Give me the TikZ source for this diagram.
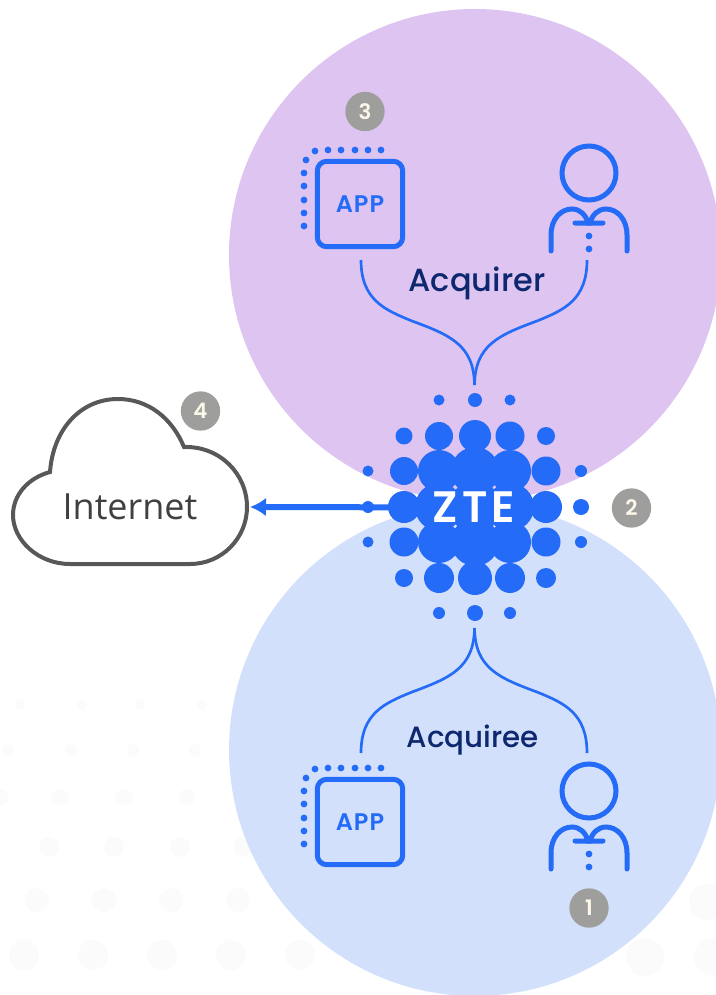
\documentclass[tikz,border=0pt]{standalone}
\usepackage{fontspec}
\setmainfont{Poppins}
\newfontfamily\medfont{Poppins}[UprightFont=* Medium, BoldFont=* SemiBold]
\newfontfamily\inetfont{Open Sans}
\usetikzlibrary{arrows.meta}
\definecolor{ztblue}{RGB}{36,107,247}
\definecolor{acqrbg}{RGB}{222,197,241}
\definecolor{acqebg}{RGB}{211,224,251}
\definecolor{acqtext}{RGB}{13,40,110}
\definecolor{badgegrey}{RGB}{158,158,156}
\definecolor{badgetext}{RGB}{252,247,232}
\definecolor{cloudgrey}{RGB}{88,88,88}
\definecolor{faintdot}{RGB}{251,251,251}
\tikzstyle{badge} = [shape=circle, fill=badgegrey, text=badgetext, minimum size=29.5pt, inner sep=0pt, font=\fontsize{16}{16}\medfont\bfseries]
\tikzstyle{appbox} = [draw=ztblue, line width=3.75pt, rounded corners=7pt, minimum size=64pt, inner sep=0pt, text=ztblue, font=\fontsize{18}{18}\medfont\bfseries]
\tikzstyle{person} = [ztblue, line width=3.75pt, line cap=round]
\tikzstyle{branch} = [ztblue, line width=2pt]
\tikzstyle{acqlabel} = [text=acqtext, font=\fontsize{24}{24}\medfont]

\begin{document}
\begin{tikzpicture}[x=.75pt, y=-.75pt]
    \useasboundingbox (0,0) rectangle (715,995);
    % faint dots in the background
    \foreach \y/\r/\xs in {955/15/{24,93,162,231,300}, 957/19/{645,713}, 902/18/{707}, 900/12/{37,104,171,238}, 847/10/{49,114,180,243}, 797/8/{0,60,124,187}, 750/6/{8,71,133,195}, 705/5/{20,82,140,202}}
        \foreach \x in \xs
            \fill[faintdot] (\x,\y) circle (\r);
    \fill[acqrbg] (475,255) circle (246);
    \fill[acqebg] (475,750) circle (246);

    % hub
    \foreach \x/\y/\r in {439/400/5.5, 475/400/7, 510/400/5.5,
        404/436/8.5, 439/436/14, 475/436/16, 510/436/14.5, 546/436/9,
        368/471/5.5, 404/471/14, 439/471/21, 475/471/24, 510/471/21, 546/471/14.5, 581/471/6,
        368/507/6, 404/507/16, 439/507/24, 475/507/26, 510/507/24, 546/507/16, 581/507/8,
        368/542/5.5, 404/542/14.5, 439/542/21, 475/542/24, 510/542/21, 546/542/14.5, 581/542/6,
        404/578/9, 439/578/15, 475/578/17, 510/578/15, 546/578/10,
        439/613/6, 475/613/8, 510/613/6}
        \fill[ztblue] (\x,\y) circle (\r);
    \draw (474,507.5) node[text=white, font=\fontsize{33}{33}\medfont\bfseries] (zte) {Z\kern3pt T\kern3pt E};

    % cloud
    \draw[cloudgrey, line width=3pt, fill=white] (50,472) .. controls (53,430) and (80,399) .. (118,399)
        .. controls (148,399) and (172,418) .. (184,447) .. controls (220,446) and (247,474) .. (247,507)
        .. controls (247,538) and (222,564) .. (190,564) -- (70,564) .. controls (38,564) and (13,540) .. (13,515)
        .. controls (13,495) and (28,478) .. (50,472) -- cycle;
    \draw (130,507) node[text=black!75, font=\fontsize{27}{27}\inetfont] (internet) {Internet};
    \coordinate (cloudport) at (250,507);
    \draw[ztblue, line width=4.5pt, -{Latex[length=12pt,width=14pt]}] (zte) -- (cloudport);

    % apps and people, upper one first
    \foreach \d/\n in {0/a, 618/b} {
        \draw (360,204+\d) node[appbox] (app\n) {A\kern.8pt P\kern.8pt P};
        \foreach \x/\y in {328/150, 341/150, 355/150, 368/150, 381/150, 315/151, 306/160, 304/173, 304/186, 304/200, 304/213, 304/226}
            \fill[ztblue] (\x,\y+\d) circle (3.4);
        \draw[person] (589,173+\d) circle (27);
        \draw[person] (551,251+\d) -- (551,235+\d) .. controls (551,219+\d) and (561,209+\d) .. (572,209+\d)
            .. controls (580,209+\d) and (586,215+\d) .. (588,223+\d) -- (575,223+\d);
        \draw[person] (627,251+\d) -- (627,235+\d) .. controls (627,219+\d) and (617,209+\d) .. (606,209+\d)
            .. controls (598,209+\d) and (592,215+\d) .. (590,223+\d) -- (603,223+\d);
        \fill[ztblue] (589,236+\d) circle (3.4);
        \fill[ztblue] (589,249+\d) circle (3.4);
    }

    % connectors
    \coordinate (appaport) at (361,260);
    \coordinate (useraport) at (587,260);
    \coordinate (jointa) at (474.5,385);
    \coordinate (appbport) at (361,753);
    \coordinate (userbport) at (587,753);
    \coordinate (jointb) at (474.5,628);
    \draw[branch] (appaport) .. controls (361,300) and (385,310) .. (412,321) .. controls (450,335) and (474,345) .. (jointa);
    \draw[branch] (useraport) .. controls (587,300) and (564,310) .. (537,321) .. controls (499,335) and (475,345) .. (jointa);
    \draw[branch] (appbport) .. controls (361,713) and (385,703) .. (412,692) .. controls (450,678) and (474,668) .. (jointb);
    \draw[branch] (userbport) .. controls (587,713) and (564,703) .. (537,692) .. controls (499,678) and (475,668) .. (jointb);
    \draw (477,283) node[acqlabel] (acquirer) {Acquirer};
    \draw (473,740) node[acqlabel, font=\fontsize{22}{22}\medfont] (acquiree) {Acquiree};

    \draw (589,908) node[badge] (one) {1};
    \draw (631.5,508) node[badge] (two) {2};
    \draw (365,111.5) node[badge] (three) {3};
    \draw (200.5,411) node[badge] (four) {4};
\end{tikzpicture}
\end{document}
